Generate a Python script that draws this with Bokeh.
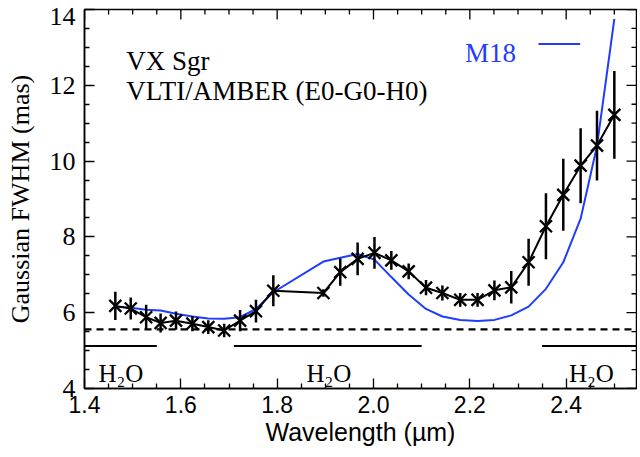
import math
from bokeh.plotting import figure
from bokeh.models import ColumnDataSource, Range1d, FixedTicker, Span
from bokeh.core.properties import value
from bokeh.embed import file_html
from bokeh.resources import INLINE

# ---- data ----
wl = [1.464, 1.496, 1.528, 1.558, 1.590, 1.624, 1.657, 1.690, 1.723, 1.756,
      1.792, 1.896, 1.931, 1.967, 2.002, 2.037, 2.073, 2.109, 2.143, 2.180,
      2.216, 2.251, 2.286, 2.322, 2.358, 2.394, 2.430, 2.464, 2.500]
fwhm = [6.18, 6.11, 5.88, 5.73, 5.79, 5.71, 5.62, 5.53, 5.79, 6.04,
        6.58, 6.52, 7.07, 7.42, 7.58, 7.38, 7.09, 6.66, 6.52, 6.34,
        6.34, 6.59, 6.67, 7.33, 8.28, 9.11, 9.88, 10.41, 11.22]
err = [0.37, 0.29, 0.33, 0.25, 0.24, 0.20, 0.18, 0.18, 0.28, 0.30,
       0.41, 0.10, 0.36, 0.43, 0.42, 0.25, 0.21, 0.20, 0.20, 0.18,
       0.18, 0.26, 0.43, 0.62, 0.87, 0.95, 0.99, 0.92, 1.16]

model_wl = [1.466, 1.496, 1.528, 1.558, 1.590, 1.624, 1.657, 1.690, 1.723, 1.756,
            1.792, 1.896, 1.967, 2.002, 2.037, 2.073, 2.109, 2.143, 2.180, 2.216,
            2.251, 2.286, 2.322, 2.358, 2.394, 2.430, 2.464, 2.500]
model_fwhm = [6.16, 6.13, 6.08, 6.06, 5.97, 5.90, 5.85, 5.84, 5.88, 6.10,
              6.54, 7.35, 7.55, 7.40, 6.94, 6.48, 6.10, 5.90, 5.81, 5.78,
              5.81, 5.93, 6.16, 6.63, 7.33, 8.48, 10.40, 13.75]

uniform_disk_level = 5.56
h2o_start = [1.40, 1.71, 2.35]
h2o_end = [1.55, 2.10, 2.546]
h2o_level = 5.12
h2o_label_x = [1.429, 1.861, 2.406]
h2o_label_y = 4.39

X_MIN, X_MAX = 1.4, 2.546
Y_MIN, Y_MAX = 4, 14
x_major = [1.4, 1.6, 1.8, 2.0, 2.2, 2.4]
x_minor = [1.45, 1.5, 1.55, 1.65, 1.7, 1.75, 1.85, 1.9, 1.95, 2.05, 2.1, 2.15,
           2.25, 2.3, 2.35, 2.45, 2.5]
y_major = [4, 6, 8, 10, 12, 14]
y_minor = [4.5, 5, 5.5, 6.5, 7, 7.5, 8.5, 9, 9.5, 10.5, 11, 11.5, 12.5, 13, 13.5]

BLUE = "#1f3cff"
SERIF = "Liberation Serif"
SANS = "Liberation Sans"

p = figure(frame_width=552, frame_height=379,
           x_range=Range1d(X_MIN, X_MAX), y_range=Range1d(Y_MIN, Y_MAX),
           output_backend="svg", toolbar_location=None,
           min_border_left=84, min_border_top=9, min_border_right=1,
           min_border_bottom=10)
p.background_fill_color = "white"
p.border_fill_color = "white"
p.outline_line_color = "black"
p.outline_line_width = 1.5
p.xgrid.visible = False
p.ygrid.visible = False

xt = FixedTicker(ticks=x_major, minor_ticks=x_minor)
yt = FixedTicker(ticks=y_major, minor_ticks=y_minor)

def style_axis(ax, ticker):
    ax.ticker = ticker
    ax.axis_line_color = "black"
    ax.axis_line_width = 1.5
    ax.major_tick_in = 10
    ax.major_tick_out = 0
    ax.minor_tick_in = 5
    ax.minor_tick_out = 0
    ax.major_tick_line_width = 1.3
    ax.minor_tick_line_width = 1.3
    ax.major_tick_line_color = "black"
    ax.minor_tick_line_color = "black"

xa = p.xaxis[0]
style_axis(xa, xt)
xa.major_label_overrides = {v: f"{v:.1f}" for v in x_major}
xa.major_label_text_font = SANS
xa.major_label_text_font_size = "23px"
xa.major_label_text_color = "black"
xa.major_label_standoff = 7
xa.axis_label = "Wavelength (µm)"
xa.axis_label_text_font = SANS
xa.axis_label_text_font_size = "25px"
xa.axis_label_text_font_style = "normal"
xa.axis_label_text_color = "black"
xa.axis_label_standoff = 2

ya = p.yaxis[0]
style_axis(ya, yt)
# the top label sits just below the frame's upper edge, as in the reference
ya.major_label_overrides = {Y_MAX: "\n" + str(Y_MAX)}
ya.major_label_text_font = SERIF
ya.major_label_text_font_size = "26px"
ya.major_label_text_color = "black"
ya.major_label_text_line_height = 0.05
ya.major_label_standoff = 9
ya.axis_label = "Gaussian FWHM (mas)"
ya.axis_label_text_font = SERIF
ya.axis_label_text_font_size = "26px"
ya.axis_label_text_font_style = "normal"
ya.axis_label_text_color = "black"
ya.axis_label_standoff = 12

# inward ticks on the top and right edges of the frame
tick_kw = dict(line_color="black", line_width=1.3, length_units="screen")
p.ray(x=x_major, y=[Y_MAX] * len(x_major), length=10, angle=-math.pi / 2, **tick_kw)
p.ray(x=x_minor, y=[Y_MAX] * len(x_minor), length=5, angle=-math.pi / 2, **tick_kw)
p.ray(x=[X_MAX] * len(y_major), y=y_major, length=10, angle=math.pi, **tick_kw)
p.ray(x=[X_MAX] * len(y_minor), y=y_minor, length=5, angle=math.pi, **tick_kw)

# reference levels
p.add_layout(Span(location=uniform_disk_level, dimension="width",
                  line_color="black", line_width=2.2, line_dash="7 5"))
hsrc = ColumnDataSource(dict(x0=h2o_start, x1=h2o_end,
                             y=[h2o_level] * len(h2o_start)))
p.segment(x0="x0", y0="y", x1="x1", y1="y", source=hsrc,
          line_color="black", line_width=2)
p.text(x=h2o_label_x, y=[h2o_label_y] * len(h2o_label_x),
       text=["H₂O"] * len(h2o_label_x), text_font=value(SERIF),
       text_font_size="25px", text_color="black", text_baseline="alphabetic")

# model
p.line(model_wl, model_fwhm, line_color=BLUE, line_width=2)

# data
lo = [f - e for f, e in zip(fwhm, err)]
hi = [f + e for f, e in zip(fwhm, err)]
src = ColumnDataSource(dict(x=wl, y=fwhm, lo=lo, hi=hi))
p.segment(x0="x", y0="lo", x1="x", y1="hi", source=src,
          line_color="black", line_width=2.5)
p.line("x", "y", source=src, line_color="black", line_width=2)
p.scatter("x", "y", source=src, marker="x", size=17,
          line_color="black", line_width=2.3)

# annotations
p.text(x=[1.4866, 1.4866], y=[12.65, 11.86],
       text=["VX Sgr", "VLTI/AMBER (E0-G0-H0)"], text_font=value(SERIF),
       text_font_size="27px", text_color="black", text_baseline="alphabetic")
p.text(x=[2.190], y=[12.86], text=["M18"], text_font=value(SERIF),
       text_font_size="27px", text_color=BLUE, text_baseline="alphabetic")
p.segment(x0=[2.3425], y0=[13.09], x1=[2.429], y1=[13.09],
          line_color=BLUE, line_width=2)

open("out.html", "w").write(file_html(p, INLINE))
